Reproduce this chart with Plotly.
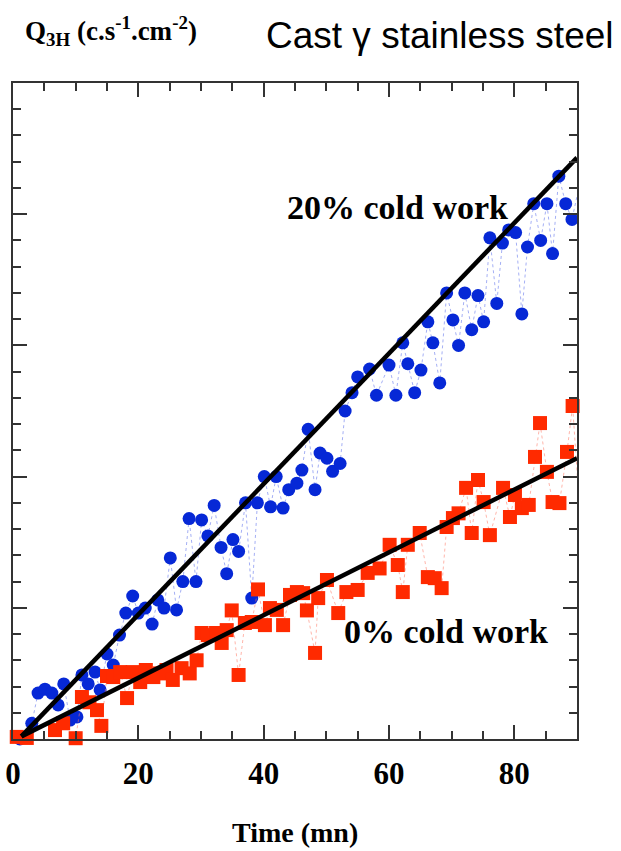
import plotly.graph_objects as go

# 20 % cold work (blue circles)
t_cw20 = [1.1, 3.0, 4.0, 5.1, 6.2, 7.2, 8.1, 9.1, 10.2, 11.0, 12.0, 13.1, 13.9, 15.0, 16.0,
          17.0, 18.0, 19.1, 20.0, 21.1, 22.2, 23.1, 24.1, 25.1, 26.1, 27.1, 28.1, 29.2, 30.1,
          31.1, 32.1, 33.2, 34.1, 35.1, 36.0, 37.1, 38.1, 39.0, 40.1, 41.1, 42.0, 43.1, 44.0,
          45.3, 46.1, 47.1, 48.2, 49.0, 50.1, 51.0, 52.2, 53.0, 54.1, 55.0, 56.9, 58.0, 60.0,
          61.1, 62.2, 63.0, 64.1, 65.1, 66.2, 67.0, 68.1, 69.2, 70.2, 71.1, 72.1, 73.2, 74.2,
          75.1, 76.1, 77.2, 78.1, 79.1, 80.2, 81.2, 82.1, 83.1, 84.2, 85.2, 86.1, 87.1, 88.2,
          89.2, 90.1]
q_cw20 = [0.0, 0.6, 1.75, 1.9, 1.75, 1.3, 2.1, 0.72, 0.84, 2.44, 2.1, 2.55, 1.87, 3.24, 2.82,
          3.96, 4.8, 5.45, 4.8, 4.99, 4.38, 5.3, 4.99, 6.9, 4.92, 6.0, 8.4, 6.0, 8.35,
          7.74, 8.9, 7.3, 6.3, 7.6, 7.15, 9.0, 5.37, 9.0, 10.0, 8.85, 10.0, 8.8, 9.5,
          9.75, 10.25, 11.8, 9.5, 10.9, 10.7, 10.2, 10.5, 12.5, 13.2, 13.8, 14.1, 13.1, 14.25,
          13.1, 15.1, 14.3, 13.2, 14.06, 15.9, 15.1, 13.57, 17.0, 15.97, 15.0, 17.0, 15.6, 16.9,
          15.9, 19.1, 16.6, 18.9, 19.4, 19.3, 16.2, 18.75, 20.4, 19.0, 20.4, 18.5, 21.45, 20.4,
          19.8, 20.8]

# 0 % cold work (red squares)
t_cw0 = [0.6, 2.2, 3.8, 5.4, 6.7, 8.0, 10.0, 11.0, 12.2, 13.4, 14.1, 15.0, 16.0, 17.1, 18.2,
         19.1, 20.3, 21.2, 22.4, 23.4, 24.5, 25.5, 26.9, 28.2, 29.3, 30.1, 31.1, 32.4, 33.3,
         34.1, 34.9, 36.0, 37.0, 38.1, 39.1, 40.2, 41.0, 42.1, 43.1, 44.2, 45.3, 46.3, 46.9,
         48.2, 48.7, 50.1, 51.9, 53.2, 55.0, 56.6, 58.5, 60.1, 61.4, 62.2, 63.0, 64.9, 66.2,
         67.3, 68.4, 69.2, 70.2, 71.1, 72.3, 73.2, 74.2, 75.1, 76.1, 78.2, 79.3, 80.1, 81.2,
         82.3, 83.3, 84.1, 85.2, 86.1, 87.2, 88.4, 89.3, 90.1]
q_cw0 = [0.08, 0.04, -0.1, -0.04, 0.34, 0.6, 0.03, 1.6, 1.4, 1.1, 0.5, 2.4, 2.36, 2.55, 1.56,
         2.55, 2.17, 2.63, 2.36, 2.5, 2.63, 2.25, 2.7, 2.5, 3.0, 4.04, 3.96, 4.04, 3.66,
         4.15, 4.9, 2.44, 4.42, 4.46, 5.7, 4.34, 4.99, 4.92, 4.34, 5.49, 5.6, 5.56, 4.9,
         3.28, 5.37, 6.06, 4.8, 5.6, 5.68, 6.33, 6.5, 7.4, 6.63, 5.6, 7.4, 7.85, 6.17,
         6.13, 5.75, 8.08, 8.42, 8.6, 9.57, 7.85, 9.87, 9.03, 7.77, 9.57, 8.46, 9.3, 8.8,
         8.92, 10.75, 12.04, 10.18, 9.03, 8.99, 10.94, 12.69, 9.87]

# linear fits (slope, intercept)
fit_cw20 = (0.2378, -0.233)
fit_cw0 = (0.1143, -0.06)
fit_t = [1.4, 94.15]

x_ticks = [0, 20, 40, 60, 80]

SERIF = "Liberation Serif"
BLUE = "#0628d6"
RED = "#ff2a00"

fig = go.Figure()

fig.add_trace(go.Scatter(
    x=t_cw20, y=q_cw20, mode="lines+markers",
    line=dict(color="rgba(90,110,235,0.55)", width=1, dash="dot"),
    marker=dict(symbol="circle", size=13, color=BLUE),
    cliponaxis=False, showlegend=False,
))
fig.add_trace(go.Scatter(
    x=t_cw0, y=q_cw0, mode="lines+markers",
    line=dict(color="rgba(255,120,100,0.55)", width=1, dash="dot"),
    marker=dict(symbol="square", size=14, color=RED),
    cliponaxis=False, showlegend=False,
))

# fit lines run past the right frame, so they live on a wider hidden x axis
for slope, icpt in (fit_cw20, fit_cw0):
    fig.add_trace(go.Scatter(
        x=fit_t, y=[slope * t + icpt for t in fit_t], mode="lines",
        line=dict(color="black", width=4.5),
        xaxis="x2", yaxis="y", showlegend=False,
    ))

axis_common = dict(
    showgrid=False, zeroline=False, showline=True, linecolor="#333", linewidth=2,
    ticks="inside", tickcolor="#333", tickwidth=2, ticklen=14, mirror="ticks",
    automargin=False,
)

fig.update_layout(
    width=621, height=851,
    margin=dict(l=13, r=18, t=83, b=112),
    paper_bgcolor="white", plot_bgcolor="white",
    xaxis=dict(
        domain=[0, 564 / 590], range=[0, 90], tickvals=x_ticks,
        minor=dict(dtick=5, ticks="inside", ticklen=8, tickcolor="#333", tickwidth=2),
        tickfont=dict(family=SERIF, size=31, color="black", weight="bold"),
        ticklabelstandoff=6, ticklabeloverflow="allow",
        **axis_common,
    ),
    xaxis2=dict(domain=[0, 1], range=[0, 94.15], overlaying="x", visible=False,
                automargin=False),
    yaxis=dict(
        range=[0, 25], dtick=5, showticklabels=False,
        minor=dict(dtick=1, ticks="inside", ticklen=8, tickcolor="#333", tickwidth=2),
        **axis_common,
    ),
    annotations=[
        dict(text="20% cold work", x=61.4, y=20.27, xref="x", yref="y", showarrow=False,
             xanchor="center", yanchor="middle",
             font=dict(family=SERIF, size=34, color="black", weight="bold")),
        dict(text="0% cold work", x=69.1, y=4.08, xref="x", yref="y", showarrow=False,
             xanchor="center", yanchor="middle",
             font=dict(family=SERIF, size=34, color="black", weight="bold")),
        dict(text="Time (mn)", x=45, y=-0.142, xref="x", yref="paper", showarrow=False,
             xanchor="center", yanchor="middle",
             font=dict(family=SERIF, size=28, color="black", weight="bold")),
        dict(text="Q<sub>3H</sub> (c.s<sup>-1</sup>.cm<sup>-2</sup>)", x=0.017, y=1.08,
             xref="paper", yref="paper", xanchor="left", yanchor="middle", showarrow=False,
             font=dict(family=SERIF, size=27, color="black", weight="bold")),
        dict(text="Cast γ stainless steel", x=0.425, y=1.073,
             xref="paper", yref="paper", xanchor="left", yanchor="middle", showarrow=False,
             font=dict(family="Liberation Sans", size=37, color="black")),
    ],
)

# drop the default 8px page margin so the figure sits at the window's corner
fig.write_html("out.html", config={"displayModeBar": False},
               post_script="document.body.style.margin = '0';")
